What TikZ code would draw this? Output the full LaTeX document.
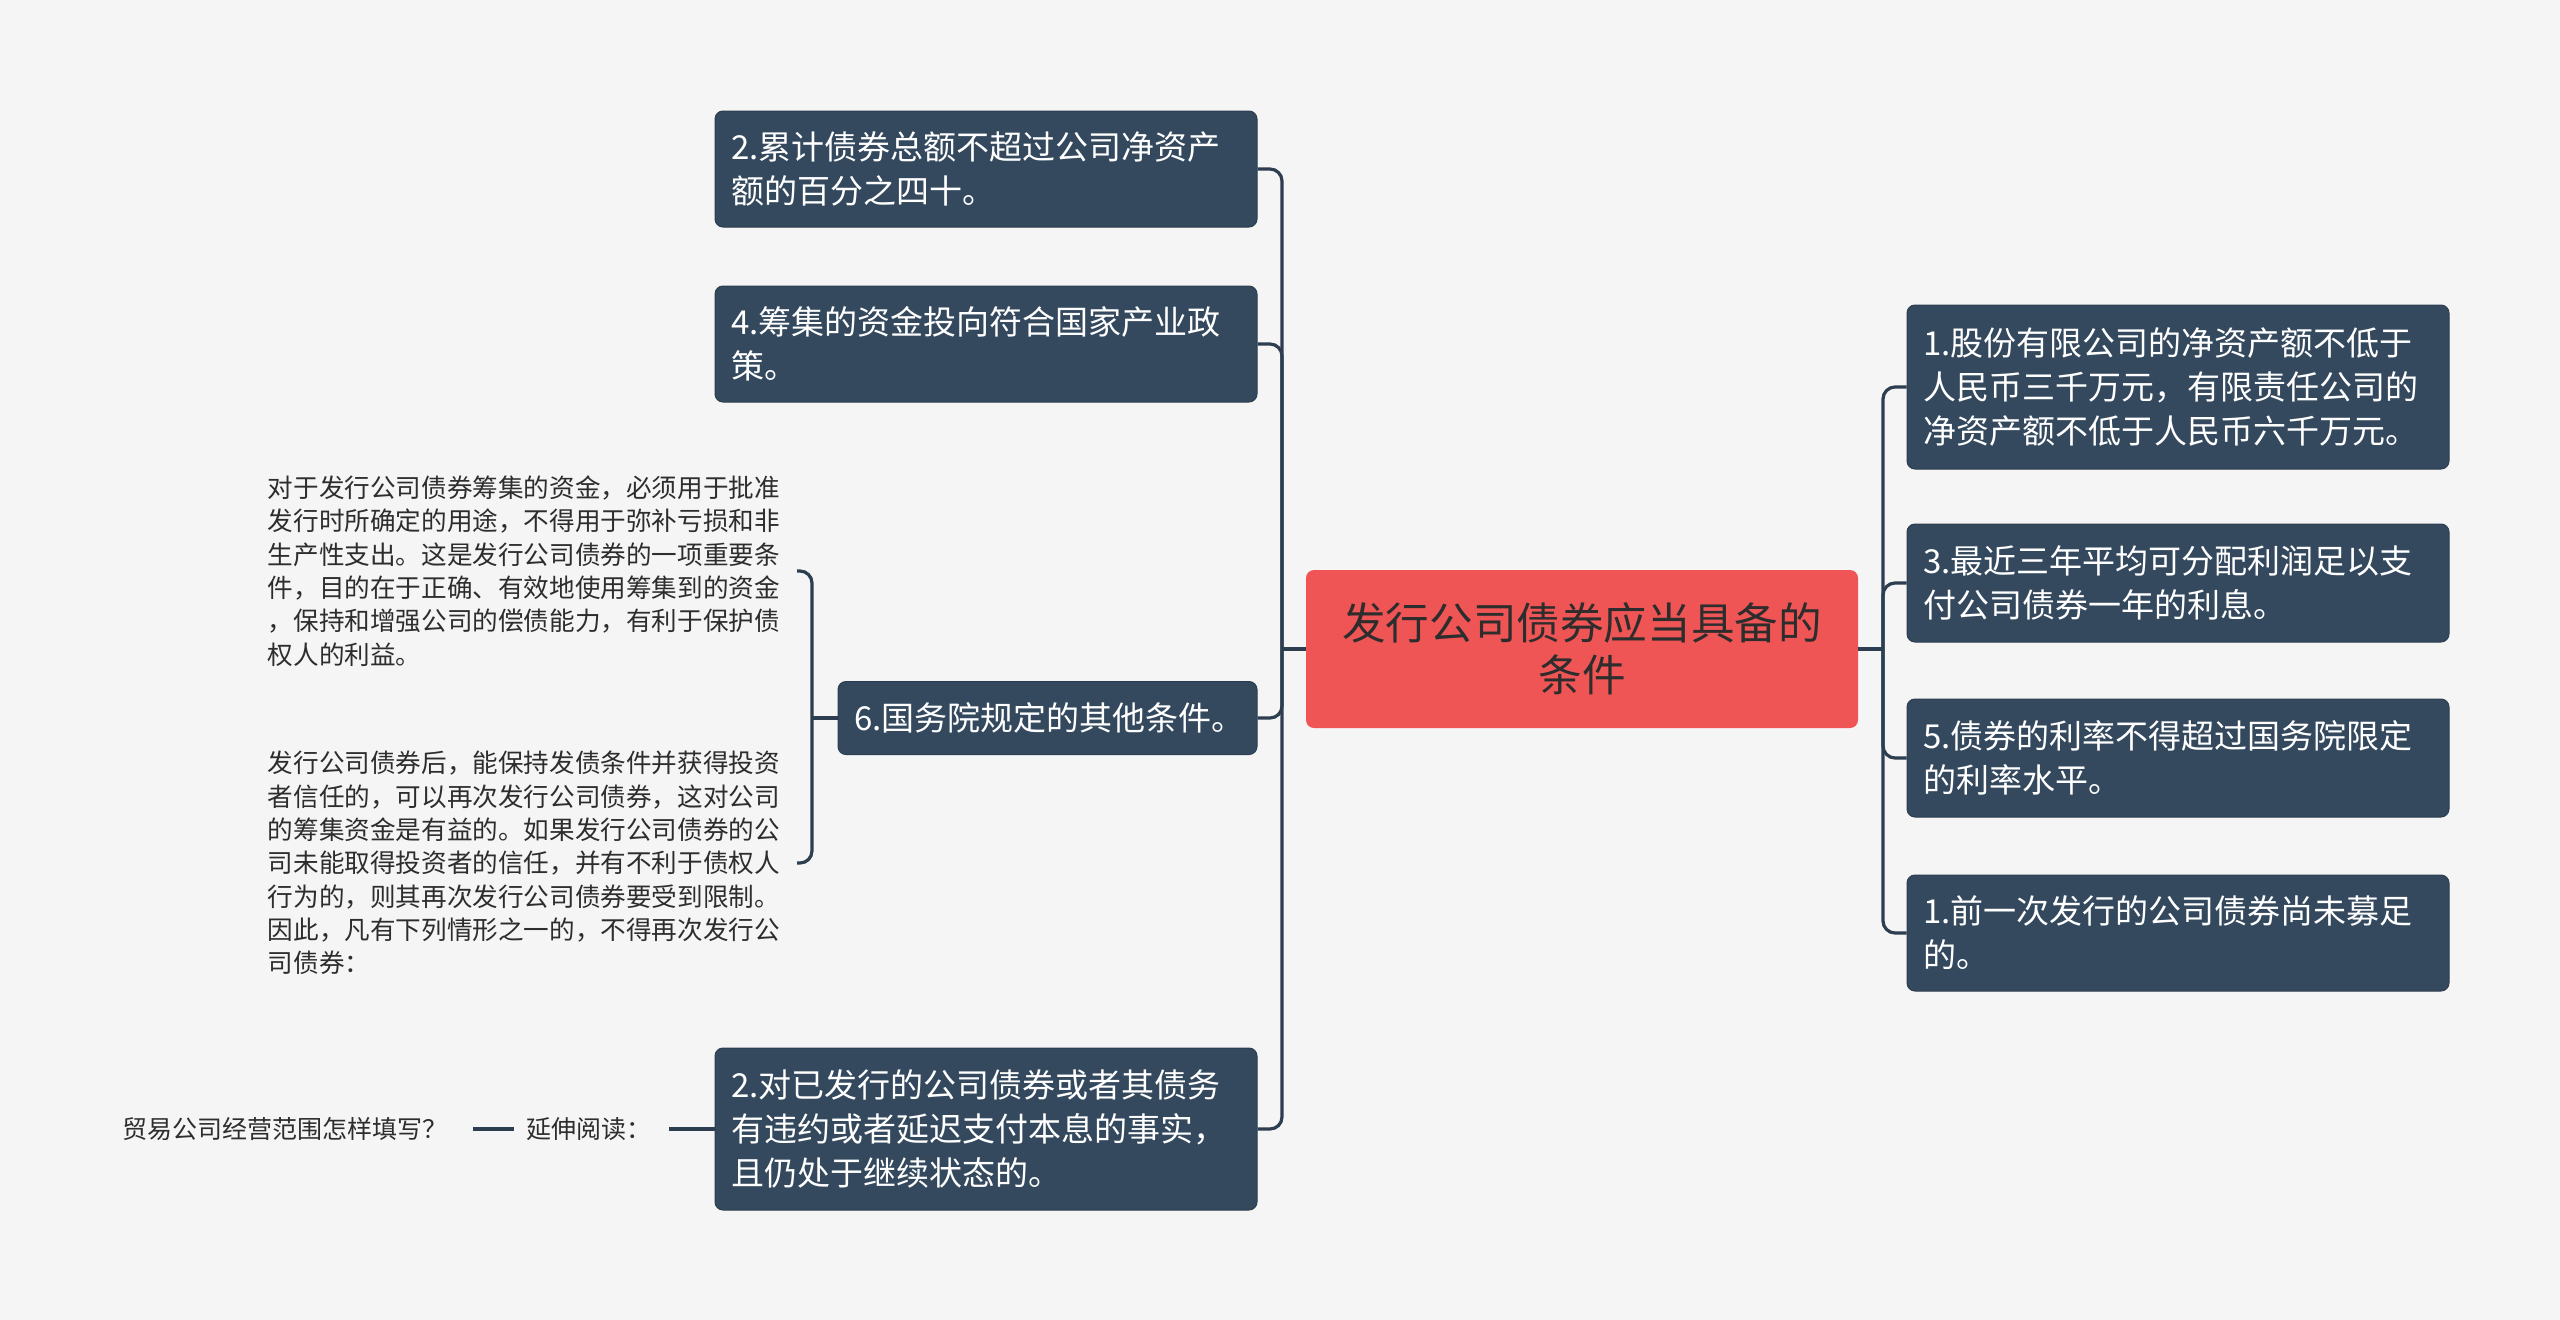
\documentclass[tikz,border=0pt]{standalone}
\usepackage{fontspec}
\newfontfamily\cjk{Noto Sans CJK SC}
\definecolor{bgc}{RGB}{245,245,245}
\definecolor{boxc}{RGB}{52,73,94}
\definecolor{rootc}{RGB}{240,85,85}
\definecolor{linec}{RGB}{44,62,80}
\definecolor{txtc}{RGB}{45,45,45}
\tikzset{
  boxn/.style={fill=boxc, draw=linec, line width=1pt, rounded corners=8pt, text=white,
    font=\cjk\fontsize{33}{44}\selectfont, align=left, text width=510pt,
    inner xsep=16pt, inner ysep=0pt},
  rootn/.style={fill=rootc, rounded corners=8pt, text=txtc,
    font=\cjk\fontsize{43.6}{52}\selectfont, align=center, text width=520pt,
    inner xsep=16pt, inner ysep=0pt, minimum height=158pt},
  plain/.style={text=txtc, font=\cjk\fontsize{25.6}{33.3}\selectfont, align=left,
    text width=521pt, inner xsep=8pt, inner ysep=0pt},
  small/.style={text=txtc, font=\cjk\fontsize{25}{30}\selectfont, inner xsep=0pt, inner ysep=0pt},
  conn/.style={draw=linec, line width=3.2pt, rounded corners=12pt},
}
\begin{document}
\begin{tikzpicture}[x=1pt,y=-1pt]
\fill[bgc] (0,0) rectangle (2560,1320);
\useasboundingbox (0,0) rectangle (2560,1320);

\node[rootn] (root) at (1582,649) {发行公司债券应当具备的\\条件};

\node[boxn, minimum height=116pt] (L1) at (986,169) {2.累计债券总额不超过公司净资产\\额的百分之四十。};
\node[boxn, minimum height=116pt] (L2) at (986,344) {4.筹集的资金投向符合国家产业政\\策。};
\node[boxn, minimum height=73pt, text width=387pt] (L3) at (1047.5,718) {6.国务院规定的其他条件。};
\node[boxn, minimum height=162pt] (L4) at (986,1129) {2.对已发行的公司债券或者其债务\\有违约或者延迟支付本息的事实，\\且仍处于继续状态的。};

\node[boxn, minimum height=164pt] (R1) at (2178,387) {1.股份有限公司的净资产额不低于\\人民币三千万元，有限责任公司的\\净资产额不低于人民币六千万元。};
\node[boxn, minimum height=118pt] (R2) at (2178,583) {3.最近三年平均可分配利润足以支\\付公司债券一年的利息。};
\node[boxn, minimum height=118pt] (R3) at (2178,758) {5.债券的利率不得超过国务院限定\\的利率水平。};
\node[boxn, minimum height=116pt] (R4) at (2178,933) {1.前一次发行的公司债券尚未募足\\的。};

\node[plain, anchor=east] (T1) at (797,571) {对于发行公司债券筹集的资金，必须用于批准\\发行时所确定的用途，不得用于弥补亏损和非\\生产性支出。这是发行公司债券的一项重要条\\件，目的在于正确、有效地使用筹集到的资金\\，保持和增强公司的偿债能力，有利于保护债\\权人的利益。};
\node[plain, anchor=east] (T2) at (797,863) {发行公司债券后，能保持发债条件并获得投资\\者信任的，可以再次发行公司债券，这对公司\\的筹集资金是有益的。如果发行公司债券的公\\司未能取得投资者的信任，并有不利于债权人\\行为的，则其再次发行公司债券要受到限制。\\因此，凡有下列情形之一的，不得再次发行公\\司债券：};

\node[small, anchor=west] (EXT) at (526,1129) {延伸阅读：};
\node[small, anchor=west] (TRD) at (122,1129) {贸易公司经营范围怎样填写？};

% left trunk
\coordinate (lt) at (1282,649);
\draw[conn] (root.west) -- (lt);
\draw[conn] (lt) |- (L1.east);
\draw[conn] (lt) |- (L2.east);
\draw[conn] (lt) |- (L3.east);
\draw[conn] (lt) |- (L4.east);

% right trunk
\coordinate (rt) at (1883,649);
\draw[conn] (root.east) -- (rt);
\draw[conn] (rt) |- (R1.west);
\draw[conn] (rt) |- (R2.west);
\draw[conn] (rt) |- (R3.west);
\draw[conn] (rt) |- (R4.west);

% bracket for 6
\coordinate (bt) at (812,718);
\draw[conn] (L3.west) -- (bt);
\draw[conn] (bt) |- (T1.east);
\draw[conn] (bt) |- (T2.east);

% bottom extension
\coordinate (ex) at (669,1129);
\draw[conn] (ex) -- (L4.west);
\draw[draw=linec, line width=4pt] ([xshift=26pt]TRD.east) -- ([xshift=-12pt]EXT.west);
\end{tikzpicture}
\end{document}
